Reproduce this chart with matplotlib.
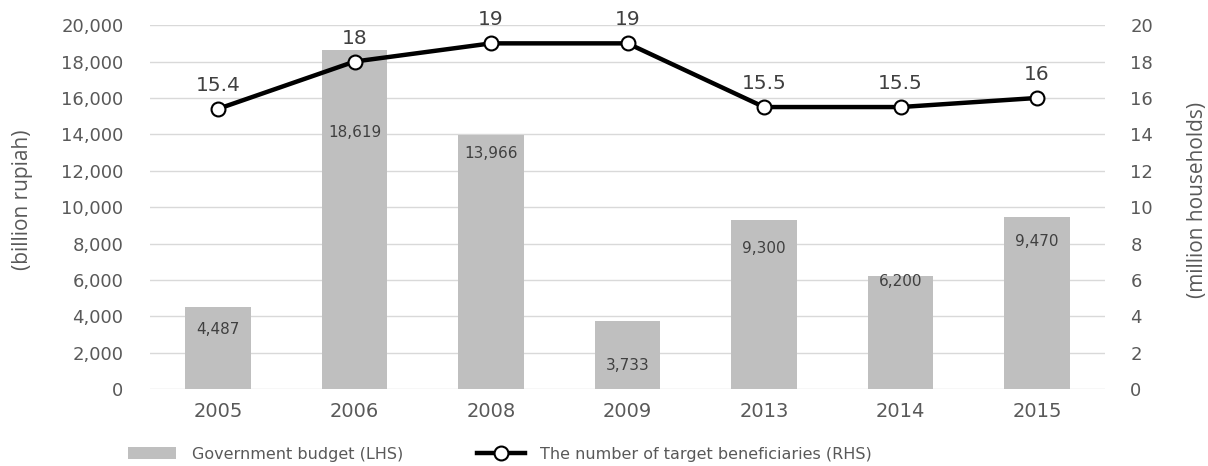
"""Government budget vs. number of target beneficiaries, 2005-2015."""

import numpy as np
import matplotlib
matplotlib.use("Agg")
import matplotlib.pyplot as plt
from matplotlib.ticker import FuncFormatter

years = ["2005", "2006", "2008", "2009", "2013", "2014", "2015"]
budget = [4487, 18619, 13966, 3733, 9300, 6200, 9470]
beneficiaries = [15.4, 18, 19, 19, 15.5, 15.5, 16]

# where the budget labels sit inside each bar (data units, left axis)
budget_label_y = [3300, 14100, 12950, 1300, 7700, 5900, 8100]

TEXT = "#595959"
BAR = "#BFBFBF"
GRID = "#D9D9D9"
WIDE = ["DejaVu Sans"]

plt.rcParams["font.family"] = ["Open Sans", "DejaVu Sans"]

fig = plt.figure(figsize=(12.08, 4.66), dpi=100)
ax = fig.add_axes([0.124, 0.165, 0.791, 0.781])
ax2 = ax.twinx()

x = np.arange(len(years))
bars = ax.bar(x, budget, width=0.48, color=BAR, zorder=2, label="Government budget (LHS)")
for xi, v, ly in zip(x, budget, budget_label_y):
    ax.text(xi, ly, f"{v:,}", ha="center", va="center", fontsize=11, color="#404040",
            family=WIDE, zorder=3)

ax.set_ylim(0, 20000)
ax.set_yticks(np.arange(0, 20001, 2000))
ax.yaxis.set_major_formatter(FuncFormatter(lambda v, _: f"{int(v):,}"))
ax.set_xlim(-0.5, len(years) - 0.5)
ax.set_xticks(x)
ax.set_xticklabels(years, fontsize=14, color=TEXT, family=WIDE)
for lab in ax.get_yticklabels():
    lab.set_family(WIDE)
ax.tick_params(axis="y", labelsize=13, labelcolor=TEXT, length=0, pad=19)
ax.tick_params(axis="x", length=0, pad=9)
ax.grid(axis="y", color=GRID, linewidth=1, zorder=0)
ax.set_axisbelow(True)
for s in ax.spines.values():
    s.set_visible(False)
ax.set_ylabel("(billion rupiah)", fontsize=15, color=TEXT)
ax.yaxis.set_label_coords(-0.122, 0.52)

line, = ax2.plot(x, beneficiaries, color="black", linewidth=3.2, marker="o", markersize=10,
                 markerfacecolor="white", markeredgecolor="black", markeredgewidth=1.5,
                 zorder=4, label="The number of target beneficiaries (RHS)")
for xi, v in zip(x, beneficiaries):
    ax2.annotate(f"{v:g}", (xi, v), xytext=(0, 10), textcoords="offset points",
                 ha="center", va="bottom", fontsize=14.5, color="#404040", family=WIDE)

ax2.set_ylim(0, 20)
ax2.set_yticks(np.arange(0, 21, 2))
for lab in ax2.get_yticklabels():
    lab.set_family(WIDE)
ax2.tick_params(axis="y", labelsize=13, labelcolor=TEXT, length=0, pad=18)
for s in ax2.spines.values():
    s.set_visible(False)
ax2.set_ylabel("(million households)", fontsize=15, color=TEXT, rotation=90)
ax2.yaxis.set_label_coords(1.086, 0.52)

leg = fig.legend([bars, line], [bars.get_label(), line.get_label()], loc="center left",
                 bbox_to_anchor=(128 / 1208, 1 - 454 / 466), ncol=2, frameon=False,
                 fontsize=11.5, handlelength=3.0, handletextpad=1.0, columnspacing=4.6,
                 borderpad=0, borderaxespad=0, labelcolor=TEXT)
for t in leg.get_texts():
    t.set_family(WIDE)

fig.savefig("out.png", dpi=100)
